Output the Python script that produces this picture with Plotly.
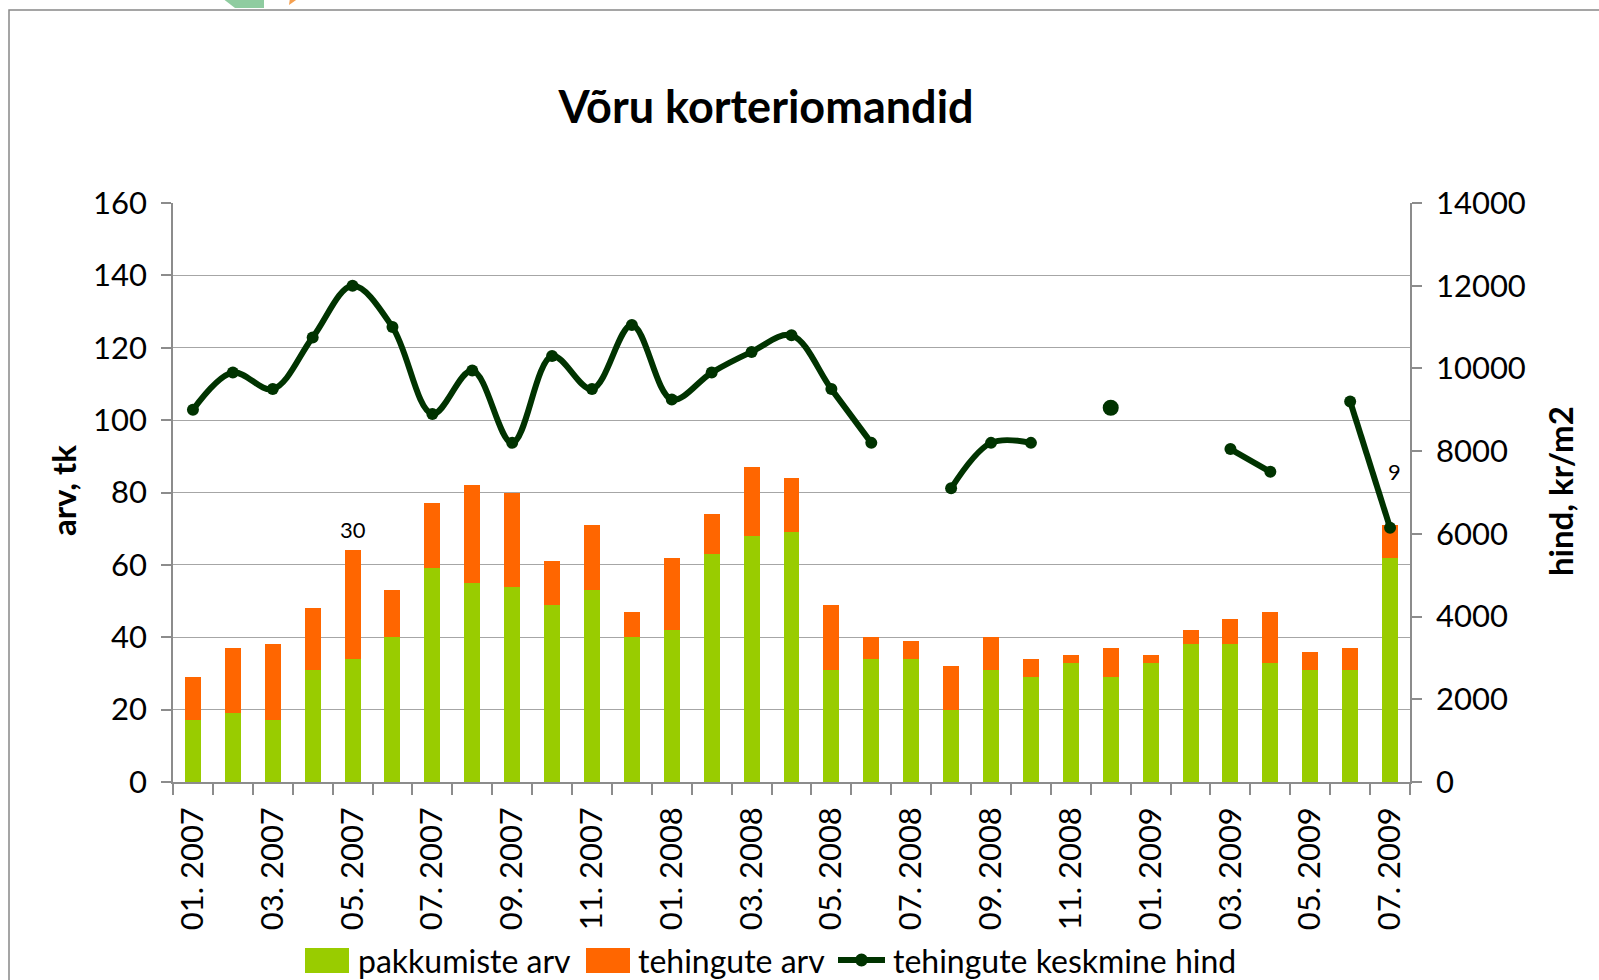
import plotly.graph_objects as go

# ---------------- data ----------------
kuud = ["01. 2007", "02. 2007", "03. 2007", "04. 2007", "05. 2007", "06. 2007",
        "07. 2007", "08. 2007", "09. 2007", "10. 2007", "11. 2007", "12. 2007",
        "01. 2008", "02. 2008", "03. 2008", "04. 2008", "05. 2008", "06. 2008",
        "07. 2008", "08. 2008", "09. 2008", "10. 2008", "11. 2008", "12. 2008",
        "01. 2009", "02. 2009", "03. 2009", "04. 2009", "05. 2009", "06. 2009",
        "07. 2009"]
pakkumiste_arv = [17, 19, 17, 31, 34, 40, 59, 55, 54, 49, 53, 40,
                  42, 63, 68, 69, 31, 34, 34, 20, 31, 29, 33, 29,
                  33, 38, 38, 33, 31, 31, 62]
tehingute_arv = [12, 18, 21, 17, 30, 13, 18, 27, 26, 12, 18, 7,
                 20, 11, 19, 15, 18, 6, 5, 12, 9, 5, 2, 8,
                 2, 4, 7, 14, 5, 6, 9]
keskmine_hind = [9000, 9900, 9500, 10750, 12000, 11000, 8900, 9950, 8200, 10300, 9500, 11050,
                 9250, 9900, 10400, 10800, 9500, 8200, None, 7100, 8200, 8200, None, 9050,
                 None, None, 8050, 7500, None, 9200, 6150]
labelled_points = [4, 30]          # month indices whose deal count is labelled

# ---------------- geometry helpers (layout only) ----------------
W, H = 1599, 980
L, R, T, B = 173, 1410, 203, 782


def px(x):
    return (x - L) / (R - L)


def py(y):
    return (B - y) / (B - T)


GREEN = "#99CC00"
ORANGE = "#FF6600"
LINE = "#003300"
FONT = "Lato"
GRID = "#A6A6A6"
AXIS = "#8C8C8C"

xs = list(range(len(kuud)))

# isolated price points get a slightly bigger dot (as in the original)
marker_sizes = []
for i, v in enumerate(keskmine_hind):
    prev_none = i == 0 or keskmine_hind[i - 1] is None
    next_none = i == len(keskmine_hind) - 1 or keskmine_hind[i + 1] is None
    marker_sizes.append(16 if (v is not None and prev_none and next_none) else 12)

fig = go.Figure()
fig.add_trace(go.Bar(x=xs, y=pakkumiste_arv, name="pakkumiste arv",
                     marker=dict(color=GREEN, line=dict(width=0))))
fig.add_trace(go.Bar(x=xs, y=tehingute_arv, name="tehingute arv",
                     marker=dict(color=ORANGE, line=dict(width=0))))
fig.add_trace(go.Scatter(x=xs, y=keskmine_hind, name="tehingute keskmine hind",
                         yaxis="y2", mode="lines+markers",
                         line=dict(color=LINE, width=6, shape="spline", smoothing=1.0),
                         marker=dict(color=LINE, size=marker_sizes, opacity=1,
                                     line=dict(width=0)),
                         connectgaps=False))

annotations = []
# data labels
label_shift = {4: 21, 30: 54}
label_x = {4: 0.0, 30: 0.1}
for i in labelled_points:
    annotations.append(dict(x=xs[i] + label_x[i], y=pakkumiste_arv[i] + tehingute_arv[i],
                            xref="x", yref="y", text=str(tehingute_arv[i]),
                            showarrow=False, yshift=label_shift[i],
                            xanchor="center", yanchor="middle",
                            font=dict(family=FONT, size=22, color="black")))

# axis titles
annotations.append(dict(x=px(63), y=py(491), xref="paper", yref="paper",
                        text="<b>arv, tk</b>", textangle=-90, showarrow=False,
                        xanchor="center", yanchor="middle",
                        font=dict(family=FONT, size=33, color="black")))
annotations.append(dict(x=px(1560), y=py(491), xref="paper", yref="paper",
                        text="<b>hind, kr/m2</b>", textangle=-90, showarrow=False,
                        xanchor="center", yanchor="middle",
                        font=dict(family=FONT, size=33, color="black")))

# manual legend
leg_y = 960
legend_items = [("pakkumiste arv", 305, 356, "bar", GREEN),
                ("tehingute arv", 586, 636, "bar", ORANGE),
                ("tehingute keskmine hind", 838, 891, "line", LINE)]
shapes = []
for name, sx, tx, kind, col in legend_items:
    if kind == "bar":
        shapes.append(dict(type="rect", xref="paper", yref="paper",
                           x0=px(sx), x1=px(sx + 44), y0=py(leg_y - 12), y1=py(leg_y + 13),
                           fillcolor=col, line=dict(width=0)))
    else:
        shapes.append(dict(type="line", xref="paper", yref="paper",
                           x0=px(sx), x1=px(sx + 47), y0=py(leg_y), y1=py(leg_y),
                           line=dict(color=col, width=6)))
        shapes.append(dict(type="circle", xref="paper", yref="paper",
                           x0=px(sx + 17), x1=px(sx + 30), y0=py(leg_y - 6.5), y1=py(leg_y + 6.5),
                           fillcolor=col, line=dict(width=0)))
    annotations.append(dict(x=px(tx), y=py(leg_y), xref="paper", yref="paper",
                            text=name, showarrow=False, xanchor="left", yanchor="middle",
                            font=dict(family=FONT, size=32, color="black")))

# chart border
shapes.append(dict(type="path", xref="paper", yref="paper",
                   path=f"M {px(9)} {py(990)} L {px(9)} {py(10)} L {px(1605)} {py(10)}",
                   line=dict(color="#888888", width=1.5)))
# logo fragments at the top edge
shapes.append(dict(type="path", xref="paper", yref="paper",
                   path=f"M {px(222)} {py(-2)} L {px(264)} {py(-2)} L {px(264)} {py(8)} "
                        f"L {px(235)} {py(8)} Z",
                   fillcolor="#8FCCA0", line=dict(width=0)))
shapes.append(dict(type="path", xref="paper", yref="paper",
                   path=f"M {px(290)} {py(-2)} L {px(299)} {py(-2)} L {px(289)} {py(5)} Z",
                   fillcolor="#F5A050", line=dict(width=0)))

tick_idx = xs[::2]
boundaries = [i - 0.5 for i in range(len(kuud) + 1)]

fig.update_layout(
    width=W, height=H, autosize=False,
    margin=dict(l=L, r=W - R, t=T, b=H - B, pad=0),
    paper_bgcolor="white", plot_bgcolor="white",
    barmode="stack", bargap=0.6,
    showlegend=False,
    font=dict(family=FONT, color="black"),
    title=dict(text="<b>Võru korteriomandid</b>", x=766 / W, xanchor="center",
               xref="container", y=1 - 107 / H, yref="container", yanchor="middle",
               font=dict(family=FONT, size=45, color="black")),
    xaxis=dict(range=[-0.5, len(kuud) - 0.5], tickmode="array",
               tickvals=tick_idx, ticktext=[kuud[i] for i in tick_idx],
               tickangle=-90, ticks="", showgrid=False, zeroline=False,
               showline=True, linecolor=AXIS, linewidth=1.5,
               tickfont=dict(family=FONT, size=31, color="black"),
               ticklabelstandoff=11,
               minor=dict(tickmode="array", tickvals=boundaries, ticks="outside",
                          ticklen=11, tickcolor=AXIS, tickwidth=1.5, showgrid=False)),
    yaxis=dict(range=[0, 160], dtick=20, showgrid=True, gridcolor=GRID, gridwidth=1.2,
               zeroline=False, showline=True, linecolor=AXIS, linewidth=1.5,
               ticks="outside", ticklen=10, tickcolor=AXIS, tickwidth=1.5,
               tickfont=dict(family=FONT, size=31, color="black"),
               ticklabelstandoff=8),
    yaxis2=dict(range=[0, 14000], dtick=2000, tickformat="d", overlaying="y", side="right",
                showgrid=False, zeroline=False, showline=True, linecolor=AXIS,
                linewidth=1.5, ticks="outside", ticklen=10, tickcolor=AXIS, tickwidth=1.5,
                tickfont=dict(family=FONT, size=31, color="black"),
                ticklabelstandoff=8),
    annotations=annotations,
    shapes=shapes,
)

fig.write_html("out.html", config={"displayModeBar": False},
               post_script="document.body.style.margin='0px';")
